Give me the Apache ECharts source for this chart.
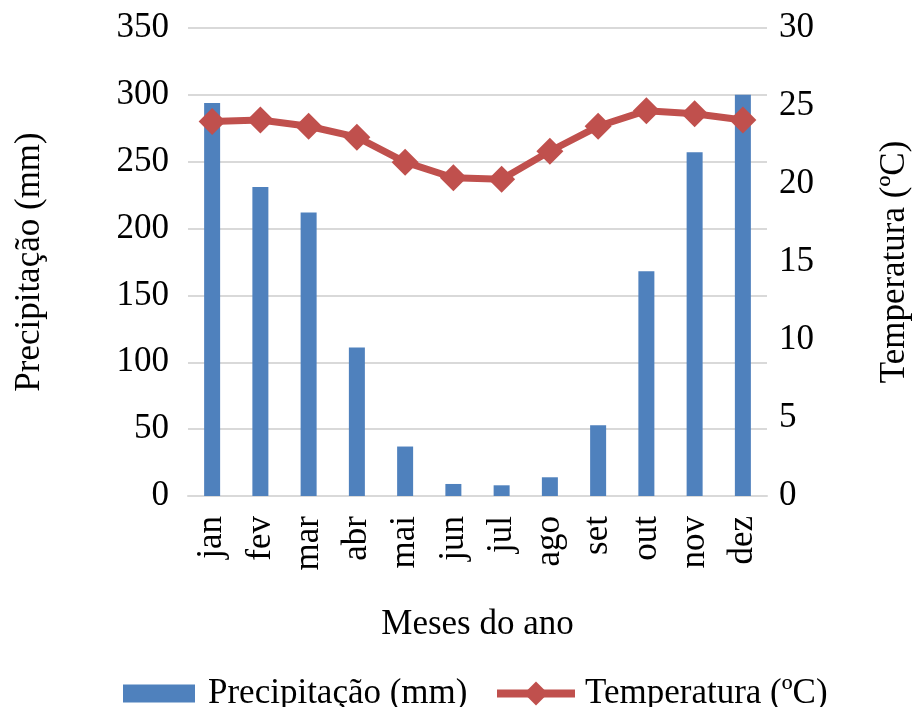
<!DOCTYPE html>
<html>
<head>
<meta charset="utf-8">
<script src="https://cdn.jsdelivr.net/npm/echarts@6/dist/echarts.min.js"></script>
<style>html,body{margin:0;padding:0;background:#fff}#c{width:914px;height:707px}</style>
</head>
<body>
<div id="c"></div>
<script>
const months = ['jan','fev','mar','abr','mai','jun','jul','ago','set','out','nov','dez'];
const precipitacao = [294, 231, 212, 111, 37, 9, 8, 14, 53, 168, 257, 300];
const temperatura = [24.0, 24.1, 23.7, 23.0, 21.4, 20.4, 20.3, 22.1, 23.7, 24.7, 24.5, 24.1];
const FONT = 'Liberation Serif';
const FS = 35;
const RED = '#C0504D', BLUE = '#4F81BD';
const chart = echarts.init(document.getElementById('c'));
chart.setOption({
  animation: false,
  textStyle: {fontFamily: FONT, color: '#000'},
  grid: {left: 188, right: 147, top: 28, bottom: 211, containLabel: false, outerBoundsMode: 'none'},
  legend: [{
    top: 671, left: 118,
    itemWidth: 72, itemHeight: 18,
    textStyle: {fontFamily: FONT, fontSize: FS, color: '#000', padding: [0, 0, 0, 8]},
    data: [{name: 'Precipitação (mm)', icon: 'rect'}]
  }, {
    top: 671, left: 488,
    itemWidth: 78, itemHeight: 30,
    lineStyle: {width: 8},
    textStyle: {fontFamily: FONT, fontSize: FS, color: '#000', padding: [0, 0, 0, 5]},
    data: [{name: 'Temperatura (ºC)'}]
  }],
  xAxis: {
    type: 'category', data: months,
    name: 'Meses do ano', nameLocation: 'middle', nameGap: 111,
    nameTextStyle: {fontFamily: FONT, fontSize: FS, color: '#000'},
    axisLine: {lineStyle: {color: '#d9d9d9', width: 2}},
    axisTick: {show: false},
    axisLabel: {rotate: 90, margin: 20, fontFamily: FONT, fontSize: FS, color: '#000'}
  },
  yAxis: [{
    type: 'value', min: 0, max: 350, interval: 50,
    name: 'Precipitação (mm)', nameLocation: 'middle', nameGap: 141, nameRotate: 90,
    nameTextStyle: {fontFamily: FONT, fontSize: FS, color: '#000'},
    axisLine: {show: false}, axisTick: {show: false},
    axisLabel: {margin: 19, fontFamily: FONT, fontSize: FS, color: '#000'},
    splitLine: {lineStyle: {color: '#d9d9d9', width: 2}}
  }, {
    type: 'value', min: 0, max: 30, interval: 5,
    name: 'Temperatura (ºC)', nameLocation: 'middle', nameGap: 110, nameRotate: 90,
    nameTextStyle: {fontFamily: FONT, fontSize: FS, color: '#000'},
    axisLine: {show: false}, axisTick: {show: false},
    axisLabel: {margin: 12, fontFamily: FONT, fontSize: FS, color: '#000'},
    splitLine: {show: false}
  }],
  series: [{
    name: 'Precipitação (mm)', type: 'bar', data: precipitacao, barWidth: 16,
    itemStyle: {color: BLUE}
  }, {
    name: 'Temperatura (ºC)', type: 'line', yAxisIndex: 1, data: temperatura,
    symbol: 'diamond', symbolSize: 27,
    lineStyle: {color: RED, width: 7},
    itemStyle: {color: RED}
  }]
});
</script>
</body>
</html>
